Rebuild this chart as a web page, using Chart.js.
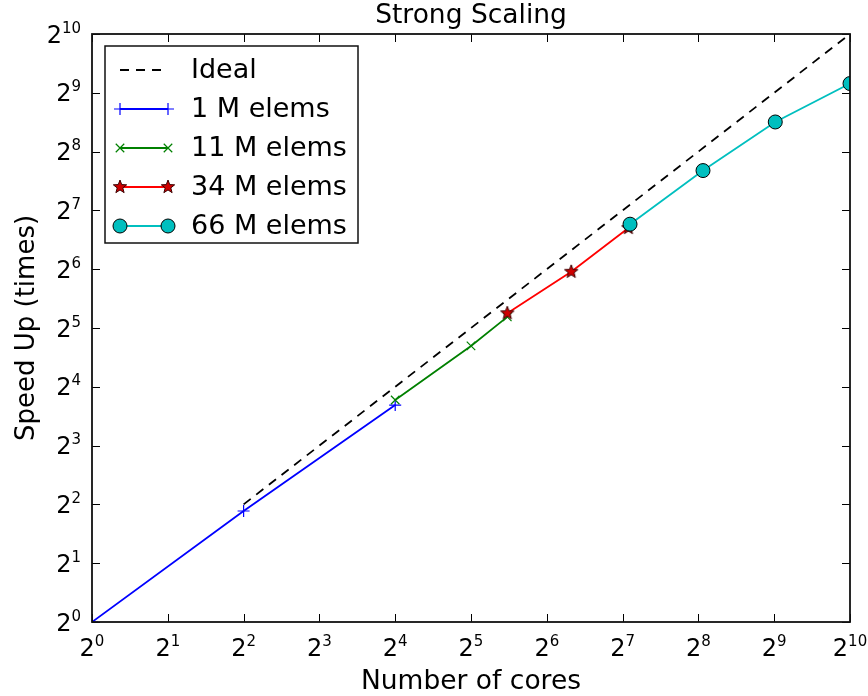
<!DOCTYPE html>
<html>
<head>
<meta charset="utf-8">
<script src="https://cdn.jsdelivr.net/npm/chart.js@4.4.0/dist/chart.umd.min.js"></script>
<style>
  html, body { margin: 0; padding: 0; background: #fff; }
  #wrap { width: 868px; height: 696px; }
</style>
</head>
<body>
<div id="wrap"><canvas id="scalingChart"></canvas></div>
<script>
// axis ticks (powers of two on both axes), label = base with exponent raised
const tickValues = [1, 2, 4, 8, 16, 32, 64, 128, 256, 512, 1024];
const tickBase = '2';
const tickExponents = ['0', '1', '2', '3', '4', '5', '6', '7', '8', '9', '10'];

const seriesLabels = ['Ideal', '1 M elems', '11 M elems', '34 M elems', '66 M elems'];

// number of cores / speed up
const idealCores = [4, 1024];
const idealSpeedup = [4, 1024];
const cores1M = [1, 4, 16];
const speedup1M = [1, 3.7, 12.9];
const cores11M = [16, 32, 44.6];
const speedup11M = [13.7, 25.9, 36.5];
const cores34M = [44.6, 80, 135];
const speedup34M = [38.1, 62.1, 104];
const cores66M = [137, 267, 517, 1024];
const speedup66M = [108.8, 204.7, 363, 571];

Chart.defaults.font.family = 'DejaVu Sans';
Chart.defaults.color = '#000';

function toPoints(xs, ys) {
    return xs.map((x, i) => ({ x: x, y: ys[i] }));
}

// filled five point star, like matplotlib's '*' marker
function makeStar(r, fill, stroke) {
    const c = document.createElement('canvas');
    const s = Math.ceil(r * 2 + 4);
    c.width = s;
    c.height = s;
    const g = c.getContext('2d');
    g.translate(s / 2, s / 2);
    g.beginPath();
    for (let i = 0; i < 10; i++) {
        const rad = i % 2 === 0 ? r : r * 0.42;
        const a = -Math.PI / 2 + i * Math.PI / 5;
        g.lineTo(rad * Math.cos(a), rad * Math.sin(a));
    }
    g.closePath();
    g.fillStyle = fill;
    g.fill();
    g.lineWidth = 1;
    g.strokeStyle = stroke;
    g.stroke();
    return c;
}
const starMarker = makeStar(7, '#d00000', '#3a0000');

const BASE_FONT = '24px "DejaVu Sans"';
const EXP_FONT = '15px "DejaVu Sans"';

// draws "2" with a raised exponent; align is 'center' or 'right'
function drawPowerLabel(ctx, exp, x, yMid, align) {
    ctx.font = BASE_FONT;
    const wb = ctx.measureText(tickBase).width;
    ctx.font = EXP_FONT;
    const we = ctx.measureText(exp).width;
    const total = wb + we;
    const left = align === 'right' ? x - total : x - total / 2;
    ctx.textAlign = 'left';
    ctx.textBaseline = 'alphabetic';
    ctx.font = BASE_FONT;
    ctx.fillText(tickBase, left, yMid + 8.5);
    ctx.font = EXP_FONT;
    ctx.fillText(exp, left + wb, yMid - 1.5);
}

const framePlugin = {
    id: 'frame',
    afterDatasetsDraw(chart) {
        const ctx = chart.ctx;
        const a = chart.chartArea;
        const xs = chart.scales.x;
        const ys = chart.scales.y;
        ctx.save();
        // inward tick marks on all four sides
        ctx.strokeStyle = '#000';
        ctx.lineWidth = 1;
        ctx.beginPath();
        tickValues.forEach(v => {
            const px = Math.round(xs.getPixelForValue(v)) + 0.5;
            ctx.moveTo(px, a.bottom); ctx.lineTo(px, a.bottom - 8);
            ctx.moveTo(px, a.top); ctx.lineTo(px, a.top + 8);
            const py = Math.round(ys.getPixelForValue(v)) + 0.5;
            ctx.moveTo(a.left, py); ctx.lineTo(a.left + 8, py);
            ctx.moveTo(a.right, py); ctx.lineTo(a.right - 8, py);
        });
        ctx.stroke();
        // frame
        ctx.lineWidth = 1.8;
        ctx.strokeStyle = '#111';
        ctx.strokeRect(a.left, a.top, a.right - a.left, a.bottom - a.top);
        // tick labels
        ctx.fillStyle = '#000';
        tickValues.forEach((v, i) => {
            drawPowerLabel(ctx, tickExponents[i], xs.getPixelForValue(v), a.bottom + 25, 'center');
            drawPowerLabel(ctx, tickExponents[i], a.left - 11, ys.getPixelForValue(v), 'right');
        });
        // title
        ctx.font = '26.5px "DejaVu Sans"';
        ctx.textAlign = 'center';
        ctx.textBaseline = 'middle';
        ctx.fillText('Strong Scaling', (a.left + a.right) / 2, 16);
        ctx.restore();
    },
    afterDraw(chart) {
        // legend box in the upper left corner
        const ctx = chart.ctx;
        const bx = 105, by = 46, bw = 253, bh = 197;
        ctx.save();
        ctx.fillStyle = '#fff';
        ctx.fillRect(bx, by, bw, bh);
        ctx.lineWidth = 1.5;
        ctx.strokeStyle = '#111';
        ctx.strokeRect(bx, by, bw, bh);
        chart.data.datasets.forEach((ds, i) => {
            const y = 70 + i * 39;
            const x0 = 120, x1 = 168;
            ctx.strokeStyle = ds.borderColor;
            ctx.lineWidth = ds.borderWidth;
            ctx.setLineDash(ds.borderDash || []);
            ctx.beginPath();
            ctx.moveTo(x0, y);
            ctx.lineTo(x1, y);
            ctx.stroke();
            ctx.setLineDash([]);
            if (ds.pointRadius > 0) {
                ctx.fillStyle = ds.pointBackgroundColor;
                ctx.strokeStyle = ds.pointBorderColor;
                ctx.lineWidth = ds.pointBorderWidth;
                const opts = { pointStyle: ds.pointStyle, radius: ds.pointRadius, rotation: 0, borderWidth: ds.pointBorderWidth };
                Chart.helpers.drawPoint(ctx, opts, x0, y);
                Chart.helpers.drawPoint(ctx, opts, x1, y);
            }
            ctx.fillStyle = '#000';
            ctx.font = '27px "DejaVu Sans"';
            ctx.textAlign = 'left';
            ctx.textBaseline = 'middle';
            ctx.fillText(ds.label, 191, y + 1);
        });
        ctx.restore();
    }
};

const ctx = document.getElementById('scalingChart').getContext('2d');
const scalingChart = new Chart(ctx, {
    type: 'line',
    data: {
        datasets: [
            {
                label: seriesLabels[0],
                data: toPoints(idealCores, idealSpeedup),
                borderColor: '#000',
                borderWidth: 1.8,
                borderDash: [9, 7],
                pointRadius: 0,
                order: 5
            },
            {
                label: seriesLabels[1],
                data: toPoints(cores1M, speedup1M),
                borderColor: '#0000ff',
                borderWidth: 1.8,
                pointStyle: 'cross',
                pointRadius: 6,
                pointBorderColor: '#0000ff',
                pointBackgroundColor: '#0000ff',
                pointBorderWidth: 1.2,
                order: 4
            },
            {
                label: seriesLabels[2],
                data: toPoints(cores11M, speedup11M),
                borderColor: '#008000',
                borderWidth: 1.8,
                pointStyle: 'crossRot',
                pointRadius: 6,
                pointBorderColor: '#008000',
                pointBackgroundColor: '#008000',
                pointBorderWidth: 1.2,
                order: 3
            },
            {
                label: seriesLabels[3],
                data: toPoints(cores34M, speedup34M),
                borderColor: '#ff0000',
                borderWidth: 1.8,
                pointStyle: starMarker,
                pointRadius: 7,
                pointBorderColor: '#3a0000',
                pointBackgroundColor: '#d00000',
                pointBorderWidth: 1,
                order: 2
            },
            {
                label: seriesLabels[4],
                data: toPoints(cores66M, speedup66M),
                borderColor: '#00bfbf',
                borderWidth: 1.8,
                pointStyle: 'circle',
                pointRadius: 7,
                pointBorderColor: '#000',
                pointBackgroundColor: '#00bfbf',
                pointBorderWidth: 1,
                order: 1
            }
        ]
    },
    options: {
        responsive: true,
        maintainAspectRatio: false,
        animation: false,
        events: [],
        clip: 0,
        layout: {
            padding: { top: 34, right: 18, left: 0, bottom: 0 }
        },
        scales: {
            x: {
                type: 'logarithmic',
                min: 1,
                max: 1024,
                afterBuildTicks: scale => { scale.ticks = tickValues.map(v => ({ value: v })); },
                afterFit: scale => { scale.height = 74; scale.paddingLeft = 0; scale.paddingRight = 0; },
                ticks: { display: false },
                grid: { display: false, drawTicks: false },
                border: { display: false },
                title: {
                    display: true,
                    text: 'Number of cores',
                    font: { size: 26.5 },
                    padding: { top: 0, bottom: -2 }
                }
            },
            y: {
                type: 'logarithmic',
                min: 1,
                max: 1024,
                afterBuildTicks: scale => { scale.ticks = tickValues.map(v => ({ value: v })); },
                afterFit: scale => { scale.width = 92; scale.paddingTop = 0; scale.paddingBottom = 0; },
                ticks: { display: false },
                grid: { display: false, drawTicks: false },
                border: { display: false },
                title: {
                    display: true,
                    text: 'Speed Up (times)',
                    font: { size: 26 },
                    padding: { top: 12, bottom: 0 }
                }
            }
        },
        plugins: {
            legend: { display: false },
            tooltip: { enabled: false }
        }
    },
    plugins: [framePlugin]
});
</script>
</body>
</html>
